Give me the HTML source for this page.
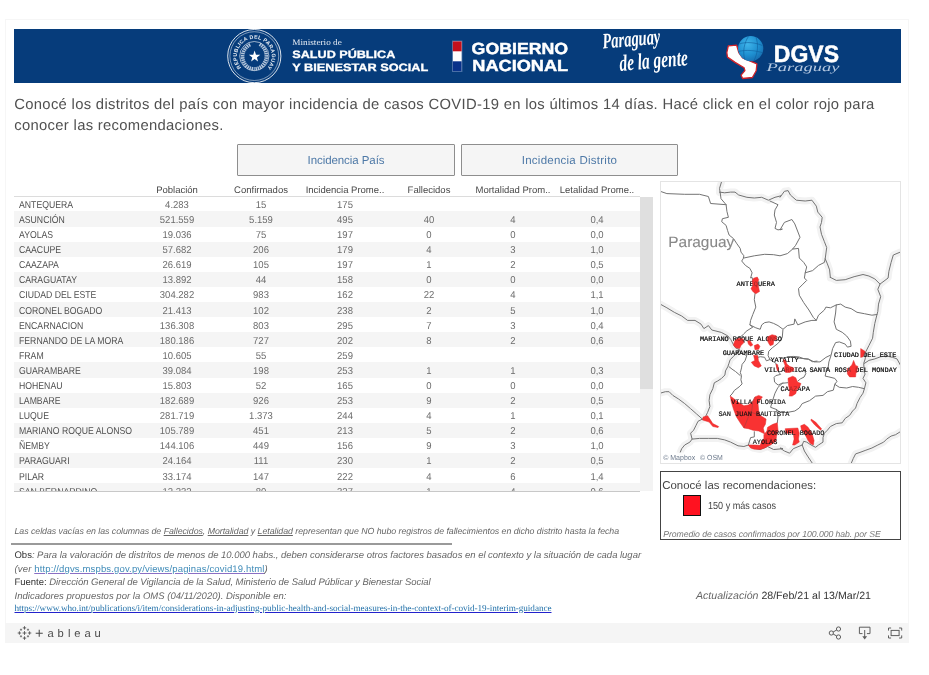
<!DOCTYPE html>
<html lang="es">
<head>
<meta charset="utf-8">
<title>Incidencia COVID-19 por distrito</title>
<style>
html,body{margin:0;padding:0;background:#fff;}
body{text-rendering:geometricPrecision;width:929px;height:675px;overflow:hidden;position:relative;font-family:"Liberation Sans",sans-serif;color:#333;}
#frame{position:absolute;left:0;top:0;width:929px;height:675px;}
#card{position:absolute;left:5px;top:19px;width:904px;height:624px;border:1px solid #f6f6f6;box-sizing:border-box;}
#banner{position:absolute;left:14px;top:29px;width:887px;height:54px;background:#063c7b;overflow:hidden;}
#intro{position:absolute;left:14.3px;top:95px;width:900px;font-size:14.8px;line-height:21px;color:#505050;letter-spacing:0.31px;white-space:nowrap;}
.btn{position:absolute;top:144px;height:32px;box-sizing:border-box;border:1px solid #8e8e8e;border-radius:1px;background:#f5f5f5;color:#4e79a7;font-size:11.5px;text-align:center;line-height:31px;}
#b1{left:237px;width:218px;}
#b2{left:461px;width:217px;}
#thead{position:absolute;left:14px;top:181px;width:626px;height:15px;border-bottom:1px solid #dcdcdc;font-size:9.5px;color:#484848;}
.th{position:absolute;top:2.1px;width:84px;text-align:center;line-height:15px;white-space:nowrap;}
.c0{left:121px}.c1{left:205px}.c2{left:289px}.c3{left:373px}.c4{left:457px}.c5{left:541px}
#tbody{position:absolute;left:14px;top:196.4px;width:626px;height:294.6px;overflow:hidden;font-size:10px;}
.tr{position:relative;height:15.1px;width:626px;}
.tr.alt{background:#f5f5f5;}
.td{position:absolute;top:1.5px;width:84px;text-align:center;line-height:15.1px;color:#6c6c6c;white-space:nowrap;transform:scaleX(0.950);}
.td.lab{left:5px;width:160px;text-align:left;color:#505050;transform:none;}
#sbar{position:absolute;left:640px;top:197px;width:13px;height:294px;background:#f3f3f3;}
#thumb{position:absolute;left:0;top:0;width:13px;height:192px;background:#dfdfdf;}
#tbot{position:absolute;left:14px;top:491px;width:626px;height:1px;background:#c8c8c8;}
#map{position:absolute;left:660px;top:181px;width:241px;height:283px;box-sizing:border-box;border:1px solid #e4e4e4;overflow:hidden;background:#fff;}
#legend{position:absolute;left:660px;top:471px;width:241px;height:69px;box-sizing:border-box;border:1px solid #444;}
.ft{position:absolute;white-space:nowrap;color:#666;font-size:9.5px;line-height:13px;}
.ft .lnk{color:#3f8bb8;text-decoration:underline;text-decoration-color:#8a6fc4;}
.sx{display:inline-block;transform-origin:0 50%;}
#note1{left:14.5px;top:525.2px;font-size:8.8px;color:#666;}
#rule{position:absolute;left:11px;top:543px;width:441px;height:2px;background:#9a9a9a;}
#obs{left:14.5px;top:549.2px;}
#ver{left:14.5px;top:563px;}
#fuente{left:14.5px;top:576.2px;}
#indic{left:14.5px;top:590px;}
#who{left:14.5px;top:601.5px;font-family:"Liberation Serif",serif;font-size:9.2px;}
#who .lnk{color:#1f6fa8;text-decoration-color:#2222cc;}
#actual{left:696px;top:590px;font-size:10.6px;}
#actual b{font-weight:400;color:#333;}
#obs .sx, #fuente .sx{color:#333;}
#obs i, #fuente i{color:#666;}
#toolbar{position:absolute;left:5px;top:623px;width:904px;height:20px;background:#f5f5f5;}
#legend .lt{position:absolute;left:1.2px;top:5.6px;font-size:11.4px;line-height:16px;color:#444;white-space:nowrap;}
#legend .sq{position:absolute;left:22px;top:23px;width:18.4px;height:21px;box-sizing:border-box;background:#ff1220;border:1px solid #111;}
#legend .ll{position:absolute;left:46.6px;top:29.4px;font-size:10.3px;line-height:12px;color:#444;white-space:nowrap;}
#legend .lp{position:absolute;left:2.2px;top:55.6px;font-size:8.7px;line-height:12px;color:#777;white-space:nowrap;font-style:italic;}
#note1 .sx{letter-spacing:-0.04px}
#obs .sx{letter-spacing:-0.02px}
#ver .sx{letter-spacing:0.15px}
#fuente .sx{letter-spacing:-0.03px}
#indic .sx{letter-spacing:0.02px}
#who .sx{letter-spacing:-0.058px}
#legend .lt .sx{letter-spacing:0.03px}
#legend .ll .sx{transform:scaleX(0.88)}
#legend .lp .sx{letter-spacing:-0.07px}
#b1 span{letter-spacing:-0.07px}
#b2 span{letter-spacing:0.25px}
.lx{transform:scaleX(0.869);}
.btn span{position:relative;top:1px;}

</style>
</head>
<body>
<div id="frame">
<div id="card"></div>
<div id="banner">
<svg width="887" height="54" viewBox="14 29 887 54" style="position:absolute;left:0;top:0;display:block">
  <defs>
    <radialGradient id="globe" cx="0.38" cy="0.32" r="0.8">
      <stop offset="0" stop-color="#3fb4ea"/>
      <stop offset="0.55" stop-color="#1e8fd0"/>
      <stop offset="1" stop-color="#1565a8"/>
    </radialGradient>
    <path id="sealarc" d="M 242.0 68.4 A 17.4 17.4 0 1 1 266.6 68.4"/>
  </defs>
  <!-- national seal -->
  <g fill="none" stroke="#ffffff">
    <circle cx="254.3" cy="56.1" r="26.6" stroke-width="0.9" stroke-opacity="0.95"/>
    <circle cx="254.3" cy="56.1" r="24.4" stroke-width="0.6" stroke-opacity="0.8"/>
    <circle cx="254.3" cy="56.1" r="14.6" stroke-width="0.7" stroke-opacity="0.85"/>
  </g>
  <text font-family="'Liberation Sans',sans-serif" font-weight="700" font-size="5.3" fill="#ffffff" fill-opacity="0.92"><textPath href="#sealarc" startOffset="1" textLength="80" lengthAdjust="spacing">REPUBLICA DEL PARAGUAY</textPath></text>
  <g fill="none" stroke="#dfe7f2" stroke-opacity="0.8" stroke-dasharray="1.5 0.7">
    <path d="M 250.2 44.6 C 241.6 49.0 240.2 59.6 246.6 66.0 C 248.8 68.0 251.6 68.8 254.3 68.9" stroke-width="3.6"/>
    <path d="M 259.6 44.2 C 267.4 48.8 268.6 59.6 262.0 66.0 C 259.8 68.0 257.0 68.8 254.3 68.9" stroke-width="3.6"/>
  </g>
  <polygon fill="#ffffff" points="254.6,50.6 256.0,54.7 260.3,54.8 256.9,57.4 258.1,61.5 254.6,59.1 251.1,61.5 252.3,57.4 248.9,54.8 253.2,54.7"/>
  <!-- ministry -->
  <text x="292.3" y="45.2" font-family="'Liberation Serif',serif" font-size="8.6" fill="#e8eef6" textLength="49.5" lengthAdjust="spacingAndGlyphs">Ministerio de</text>
  <text x="292.3" y="58.4" font-family="'Liberation Sans',sans-serif" font-weight="700" font-size="10.7" fill="#ffffff" stroke="#ffffff" stroke-width="0.3" textLength="103" lengthAdjust="spacingAndGlyphs">SALUD PÚBLICA</text>
  <text x="292.3" y="71.3" font-family="'Liberation Sans',sans-serif" font-weight="700" font-size="10.7" fill="#ffffff" stroke="#ffffff" stroke-width="0.3" textLength="136" lengthAdjust="spacingAndGlyphs">Y BIENESTAR SOCIAL</text>
  <!-- flag -->
  <rect x="452.4" y="41" width="9.6" height="30.6" fill="#ffffff" stroke="#4a72a6" stroke-width="0.8"/>
  <rect x="452.8" y="41.4" width="8.8" height="9.9" fill="#c4101c"/>
  <rect x="452.8" y="61.3" width="8.8" height="9.9" fill="#08328a"/>
  <!-- gobierno -->
  <text x="471.6" y="54.1" font-family="'Liberation Sans',sans-serif" font-weight="700" font-size="16" fill="#ffffff" stroke="#ffffff" stroke-width="0.45" textLength="96.5" lengthAdjust="spacingAndGlyphs">GOBIERNO</text>
  <text x="472.3" y="70.8" font-family="'Liberation Sans',sans-serif" font-weight="700" font-size="16" fill="#ffffff" stroke="#ffffff" stroke-width="0.45" textLength="95.8" lengthAdjust="spacingAndGlyphs">NACIONAL</text>
  <!-- paraguay de la gente -->
  <g font-family="'Liberation Serif',serif" font-style="italic" font-weight="700" fill="#ffffff">
    <text x="603" y="48.6" font-size="22" textLength="58" lengthAdjust="spacingAndGlyphs" transform="rotate(-5 603 48.6)">Paraguay</text>
    <text x="620" y="71" font-size="23" textLength="68.5" lengthAdjust="spacingAndGlyphs" transform="rotate(-5 620 71)">de la gente</text>
  </g>
  <!-- DGVS -->
  <polygon points="728.3,45.8 736.6,45.1 738.8,52.6 742.6,57.9 756.9,63.9 756.2,70.7 752.4,77.5 742.6,78.5 741.1,75.2 744.9,70.7 744.1,67.7 735.1,62.4 727.5,57.1 726.8,52.6" fill="#ffffff" stroke="#d2232a" stroke-width="1.3" stroke-linejoin="round"/>
  <circle cx="750.7" cy="48.6" r="12.6" fill="url(#globe)"/>
  <g fill="none" stroke="#0f5a98" stroke-width="0.7" stroke-opacity="0.8">
    <path d="M 748.5 36.4 C 744 43 742.5 52 744.8 59.6"/>
    <path d="M 756 37.3 C 758.5 44 758 53 754 60.6"/>
    <path d="M 739.2 44 C 746 41.5 756 42.5 762.4 45.6"/>
    <path d="M 738.4 51.5 C 746 49.5 756.5 50.5 763.2 53"/>
  </g>
  <text x="773.8" y="62.4" font-family="'Liberation Sans',sans-serif" font-weight="700" font-size="23.8" fill="#ffffff" stroke="#ffffff" stroke-width="0.5" textLength="65.2" lengthAdjust="spacingAndGlyphs">DGVS</text>
  <text x="766.5" y="70.6" font-family="'Liberation Serif',serif" font-style="italic" font-size="11.5" fill="#c9d8ec" fill-opacity="0.9" textLength="73" lengthAdjust="spacingAndGlyphs">Paraguay</text>
</svg>
</div>
<div id="intro">Conocé los distritos del país con mayor incidencia de casos COVID-19 en los últimos 14 días. Hacé click en el color rojo para<br>conocer las recomendaciones.</div>
<div class="btn" id="b1"><span>Incidencia País</span></div>
<div class="btn" id="b2"><span>Incidencia Distrito</span></div>
<div id="thead"><div class="th c0">Población</div><div class="th c1">Confirmados</div><div class="th c2">Incidencia Prome..</div><div class="th c3">Fallecidos</div><div class="th c4">Mortalidad Prom..</div><div class="th c5">Letalidad Prome..</div></div>
<div id="tbody">
<div class="tr"><div class="td lab"><span class="sx lx">ANTEQUERA</span></div><div class="td c0">4.283</div><div class="td c1">15</div><div class="td c2">175</div><div class="td c3"></div><div class="td c4"></div><div class="td c5"></div></div>
<div class="tr alt"><div class="td lab"><span class="sx lx">ASUNCIÓN</span></div><div class="td c0">521.559</div><div class="td c1">5.159</div><div class="td c2">495</div><div class="td c3">40</div><div class="td c4">4</div><div class="td c5">0,4</div></div>
<div class="tr"><div class="td lab"><span class="sx lx">AYOLAS</span></div><div class="td c0">19.036</div><div class="td c1">75</div><div class="td c2">197</div><div class="td c3">0</div><div class="td c4">0</div><div class="td c5">0,0</div></div>
<div class="tr alt"><div class="td lab"><span class="sx lx">CAACUPE</span></div><div class="td c0">57.682</div><div class="td c1">206</div><div class="td c2">179</div><div class="td c3">4</div><div class="td c4">3</div><div class="td c5">1,0</div></div>
<div class="tr"><div class="td lab"><span class="sx lx">CAAZAPA</span></div><div class="td c0">26.619</div><div class="td c1">105</div><div class="td c2">197</div><div class="td c3">1</div><div class="td c4">2</div><div class="td c5">0,5</div></div>
<div class="tr alt"><div class="td lab"><span class="sx lx">CARAGUATAY</span></div><div class="td c0">13.892</div><div class="td c1">44</div><div class="td c2">158</div><div class="td c3">0</div><div class="td c4">0</div><div class="td c5">0,0</div></div>
<div class="tr"><div class="td lab"><span class="sx lx">CIUDAD DEL ESTE</span></div><div class="td c0">304.282</div><div class="td c1">983</div><div class="td c2">162</div><div class="td c3">22</div><div class="td c4">4</div><div class="td c5">1,1</div></div>
<div class="tr alt"><div class="td lab"><span class="sx lx">CORONEL BOGADO</span></div><div class="td c0">21.413</div><div class="td c1">102</div><div class="td c2">238</div><div class="td c3">2</div><div class="td c4">5</div><div class="td c5">1,0</div></div>
<div class="tr"><div class="td lab"><span class="sx lx">ENCARNACION</span></div><div class="td c0">136.308</div><div class="td c1">803</div><div class="td c2">295</div><div class="td c3">7</div><div class="td c4">3</div><div class="td c5">0,4</div></div>
<div class="tr alt"><div class="td lab"><span class="sx lx">FERNANDO DE LA MORA</span></div><div class="td c0">180.186</div><div class="td c1">727</div><div class="td c2">202</div><div class="td c3">8</div><div class="td c4">2</div><div class="td c5">0,6</div></div>
<div class="tr"><div class="td lab"><span class="sx lx">FRAM</span></div><div class="td c0">10.605</div><div class="td c1">55</div><div class="td c2">259</div><div class="td c3"></div><div class="td c4"></div><div class="td c5"></div></div>
<div class="tr alt"><div class="td lab"><span class="sx lx">GUARAMBARE</span></div><div class="td c0">39.084</div><div class="td c1">198</div><div class="td c2">253</div><div class="td c3">1</div><div class="td c4">1</div><div class="td c5">0,3</div></div>
<div class="tr"><div class="td lab"><span class="sx lx">HOHENAU</span></div><div class="td c0">15.803</div><div class="td c1">52</div><div class="td c2">165</div><div class="td c3">0</div><div class="td c4">0</div><div class="td c5">0,0</div></div>
<div class="tr alt"><div class="td lab"><span class="sx lx">LAMBARE</span></div><div class="td c0">182.689</div><div class="td c1">926</div><div class="td c2">253</div><div class="td c3">9</div><div class="td c4">2</div><div class="td c5">0,5</div></div>
<div class="tr"><div class="td lab"><span class="sx lx">LUQUE</span></div><div class="td c0">281.719</div><div class="td c1">1.373</div><div class="td c2">244</div><div class="td c3">4</div><div class="td c4">1</div><div class="td c5">0,1</div></div>
<div class="tr alt"><div class="td lab"><span class="sx lx">MARIANO ROQUE ALONSO</span></div><div class="td c0">105.789</div><div class="td c1">451</div><div class="td c2">213</div><div class="td c3">5</div><div class="td c4">2</div><div class="td c5">0,6</div></div>
<div class="tr"><div class="td lab"><span class="sx lx">ÑEMBY</span></div><div class="td c0">144.106</div><div class="td c1">449</div><div class="td c2">156</div><div class="td c3">9</div><div class="td c4">3</div><div class="td c5">1,0</div></div>
<div class="tr alt"><div class="td lab"><span class="sx lx">PARAGUARI</span></div><div class="td c0">24.164</div><div class="td c1">111</div><div class="td c2">230</div><div class="td c3">1</div><div class="td c4">2</div><div class="td c5">0,5</div></div>
<div class="tr"><div class="td lab"><span class="sx lx">PILAR</span></div><div class="td c0">33.174</div><div class="td c1">147</div><div class="td c2">222</div><div class="td c3">4</div><div class="td c4">6</div><div class="td c5">1,4</div></div>
<div class="tr alt"><div class="td lab"><span class="sx lx">SAN BERNARDINO</span></div><div class="td c0">12.232</div><div class="td c1">80</div><div class="td c2">327</div><div class="td c3">1</div><div class="td c4">4</div><div class="td c5">0,6</div></div>
</div>
<div id="sbar"><div id="thumb"></div></div>
<div id="tbot"></div>
<div id="map">
<svg width="241" height="283" viewBox="660 181 241 283" style="position:absolute;left:-1px;top:-1px;display:block">
<g fill="none" stroke="#f2f2f2" stroke-width="7" stroke-linejoin="round" stroke-linecap="round">
<path d="M721.7 181.3 L719.5 188.4 L720.2 192.8"/>
<path d="M719.5 192.1 L724.7 192.8 L730.6 192.1 L735.0 192.1 L738.7 195.0 L746.9 197.3 L754.3 198.0 L761.7 197.3 L768.4 200.2 L775.0 197.3 L781.0 195.8 L780.0 197.3 L784.4 191.3 L788.1 190.6 L790.4 195.0 L796.3 200.2 L805.2 201.0 L811.9 200.2 L816.3 206.1 L817.8 212.1 L822.2 217.3 L821.5 222.4 L820.0 226.9 L821.5 234.3 L824.4 241.7 L826.7 247.6 L825.2 258.7 L827.4 263.9 L829.6 269.9 L830.4 278.0 L830.4 277.4 L836.3 280.4 L845.2 279.7 L854.1 276.7 L863.0 274.5 L868.9 276.0 L874.8 278.9 L880.0 284.1 L877.8 289.3 L880.7 296.7 L878.5 304.1 L877.8 311.5 L877.0 314.5 L874.8 323.4 L873.3 332.3 L872.6 338.2 L868.9 345.6 L865.9 351.5 L865.2 358.9 L863.7 363.4 L864.4 373.0 L865.2 373.9 L863.0 378.4 L865.9 382.8 L864.4 388.7 L863.0 393.2 L860.0 397.6 L857.0 403.6 L855.6 408.0 L852.6 411.0 L849.6 415.4 L845.2 418.4 L842.2 422.8 L836.3 423.6 L830.4 426.5 L827.4 430.2 L824.4 433.2 L823.0 437.6 L823.0 442.1 L818.5 445.0 L815.6 447.3 L811.1 445.0 L806.7 442.1 L803.7 441.3 L802.2 445.0 L793.3 448.7 L789.6 453.2 L784.4 451.0 L780.0 448.0 L783.0 448.7 L773.6 449.5 L767.6 446.5 L760.2 449.5 L752.8 448.0 L748.4 445.0 L743.9 446.5 L738.0 445.8 L730.6 442.1 L724.7 439.9 L717.3 438.4 L708.4 438.4 L699.5 438.4 L692.1 439.1 L690.6 433.2 L693.6 430.2 L695.8 425.8 L698.0 421.3 L702.4 419.1 L705.4 416.9 L707.6 412.4 L709.9 406.5 L709.1 400.6 L709.9 394.7 L712.8 388.7 L714.3 382.8 L717.8 380.9 L721.3 378.6 L724.9 375.0 L725.5 370.9 L727.8 366.7 L729.0 363.2 L730.2 359.6 L733.8 356.1 L736.7 353.1 L739.1 349.5 L735.5 347.8 L733.2 344.2 L730.8 339.5 L727.8 335.9 L721.3 332.4 L711.8 330.0 L708.4 325.6 L703.9 328.6 L701.0 324.1 L695.0 320.4 L687.6 320.4 L681.7 316.0 L674.3 312.3 L666.9 307.8 L660.2 304.1"/>
<path d="M880.0 284.1 L888.1 278.0 L888.9 271.3 L891.1 262.4 L893.3 255.0 L900.3 252.1"/>
<path d="M864.4 363.4 L868.9 360.4 L874.8 358.9 L880.7 356.7 L886.7 356.0 L892.6 357.4 L897.0 358.9 L900.3 364.9"/>
<path d="M900.3 431.7 L895.6 434.7 L891.1 436.1 L886.7 439.1 L883.7 442.1 L877.8 445.0 L871.9 448.0 L865.9 450.2 L860.0 452.4 L855.6 453.9 L853.3 458.4 L851.1 463.6"/>
<path d="M692.1 439.1 L689.9 442.1 L684.7 445.0 L681.7 448.7 L680.2 452.4"/>
<path d="M660.2 393.2 L665.4 391.7 L669.1 391.7 L672.8 395.4 L678.7 399.1 L684.7 403.6 L690.6 408.7 L696.5 413.9 L702.4 419.1"/>
<path d="M802.2 445.0 L804.4 451.0 L808.1 456.9 L812.6 463.6"/>
</g>
<g fill="none" stroke="#737373" stroke-width="1" stroke-linejoin="round" stroke-linecap="round">
<path d="M721.7 181.3 L719.5 188.4 L720.2 192.8"/>
<path d="M719.5 192.1 L724.7 192.8 L730.6 192.1 L735.0 192.1 L738.7 195.0 L746.9 197.3 L754.3 198.0 L761.7 197.3 L768.4 200.2 L775.0 197.3 L781.0 195.8 L780.0 197.3 L784.4 191.3 L788.1 190.6 L790.4 195.0 L796.3 200.2 L805.2 201.0 L811.9 200.2 L816.3 206.1 L817.8 212.1 L822.2 217.3 L821.5 222.4 L820.0 226.9 L821.5 234.3 L824.4 241.7 L826.7 247.6 L825.2 258.7 L827.4 263.9 L829.6 269.9 L830.4 278.0 L830.4 277.4 L836.3 280.4 L845.2 279.7 L854.1 276.7 L863.0 274.5 L868.9 276.0 L874.8 278.9 L880.0 284.1 L877.8 289.3 L880.7 296.7 L878.5 304.1 L877.8 311.5 L877.0 314.5 L874.8 323.4 L873.3 332.3 L872.6 338.2 L868.9 345.6 L865.9 351.5 L865.2 358.9 L863.7 363.4 L864.4 373.0 L865.2 373.9 L863.0 378.4 L865.9 382.8 L864.4 388.7 L863.0 393.2 L860.0 397.6 L857.0 403.6 L855.6 408.0 L852.6 411.0 L849.6 415.4 L845.2 418.4 L842.2 422.8 L836.3 423.6 L830.4 426.5 L827.4 430.2 L824.4 433.2 L823.0 437.6 L823.0 442.1 L818.5 445.0 L815.6 447.3 L811.1 445.0 L806.7 442.1 L803.7 441.3 L802.2 445.0 L793.3 448.7 L789.6 453.2 L784.4 451.0 L780.0 448.0 L783.0 448.7 L773.6 449.5 L767.6 446.5 L760.2 449.5 L752.8 448.0 L748.4 445.0 L743.9 446.5 L738.0 445.8 L730.6 442.1 L724.7 439.9 L717.3 438.4 L708.4 438.4 L699.5 438.4 L692.1 439.1 L690.6 433.2 L693.6 430.2 L695.8 425.8 L698.0 421.3 L702.4 419.1 L705.4 416.9 L707.6 412.4 L709.9 406.5 L709.1 400.6 L709.9 394.7 L712.8 388.7 L714.3 382.8 L717.8 380.9 L721.3 378.6 L724.9 375.0 L725.5 370.9 L727.8 366.7 L729.0 363.2 L730.2 359.6 L733.8 356.1 L736.7 353.1 L739.1 349.5 L735.5 347.8 L733.2 344.2 L730.8 339.5 L727.8 335.9 L721.3 332.4 L711.8 330.0 L708.4 325.6 L703.9 328.6 L701.0 324.1 L695.0 320.4 L687.6 320.4 L681.7 316.0 L674.3 312.3 L666.9 307.8 L660.2 304.1"/>
<path d="M880.0 284.1 L888.1 278.0 L888.9 271.3 L891.1 262.4 L893.3 255.0 L900.3 252.1"/>
<path d="M864.4 363.4 L868.9 360.4 L874.8 358.9 L880.7 356.7 L886.7 356.0 L892.6 357.4 L897.0 358.9 L900.3 364.9"/>
<path d="M900.3 431.7 L895.6 434.7 L891.1 436.1 L886.7 439.1 L883.7 442.1 L877.8 445.0 L871.9 448.0 L865.9 450.2 L860.0 452.4 L855.6 453.9 L853.3 458.4 L851.1 463.6"/>
<path d="M692.1 439.1 L689.9 442.1 L684.7 445.0 L681.7 448.7 L680.2 452.4"/>
<path d="M660.2 393.2 L665.4 391.7 L669.1 391.7 L672.8 395.4 L678.7 399.1 L684.7 403.6 L690.6 408.7 L696.5 413.9 L702.4 419.1"/>
<path d="M802.2 445.0 L804.4 451.0 L808.1 456.9 L812.6 463.6"/>
<path d="M660.2 191.3 L666.9 193.6 L684.7 194.3 L699.5 194.3 L708.4 196.5 L710.6 203.5 L726.1 204.7"/>
<path d="M720.2 192.8 L721.0 198.7 L726.1 204.7 L726.9 211.3 L728.4 217.3 L722.4 218.7 L721.7 221.7 L726.1 225.4 L727.6 230.6 L729.1 235.0 L733.6 238.7 L736.5 243.2 L740.2 248.4 L741.0 252.1 L743.9 255.8 L743.2 258.7 L741.7 261.0 L745.4 265.4 L749.9 268.4 L752.1 272.8 L750.6 278.0 L752.1 277.4 L754.3 286.3 L755.0 293.7 L754.3 299.7 L755.8 307.1 L752.8 314.5 L750.6 320.4 L749.9 324.9 L752.8 327.1 L746.9 330.8 L743.9 333.7 L741.7 336.0 L739.0 337.3 L735.5 340.0"/>
<path d="M769.9 201.0 L778.0 204.7 L775.0 209.9 L774.3 215.0 L776.5 222.4 L775.0 228.4 L778.0 229.9 L782.4 229.1 L780.0 229.9 L784.4 222.4 L791.9 219.5 L794.8 223.9 L800.0 237.3 L795.6 245.4 L792.6 249.1 L787.4 253.6 L780.0 255.8 L773.6 254.7 L764.7 254.3 L754.3 255.8 L743.9 258.0"/>
<path d="M792.6 249.1 L798.5 248.4 L799.3 258.0 L803.7 262.4 L806.7 266.9 L805.2 272.8 L804.4 278.0 L806.7 280.4 L802.2 284.9 L798.5 288.6 L799.3 295.2 L803.7 302.6 L808.9 310.0 L813.3 317.4 L816.3 320.4"/>
<path d="M805.2 272.8 L812.6 270.6 L818.5 265.4 L824.4 262.4 L825.2 258.7"/>
<path d="M749.9 324.9 L755.8 327.8 L760.2 329.3 L761.7 324.9 L764.7 322.6 L769.1 321.9 L773.6 323.4 L778.0 325.6 L783.0 329.3 L787.4 325.6 L794.1 324.1 L794.8 318.9 L797.8 324.9 L805.2 321.9 L811.9 320.4 L816.3 320.4 L818.5 315.2 L824.4 310.0 L825.9 307.1 L830.4 307.8 L836.3 304.9 L840.7 304.1 L845.2 307.1 L851.1 308.6 L857.0 312.3 L864.4 313.7 L871.9 315.2 L877.0 314.5"/>
<path d="M836.3 304.9 L835.6 313.0 L834.1 321.9 L836.3 329.3 L842.2 332.3 L846.7 336.0 L850.4 341.1 L851.1 346.3 L847.4 347.1 L845.2 344.1 L839.3 341.9 L835.6 342.6 L832.6 348.6 L831.1 355.2 L828.9 361.9 L828.1 367.8 L826.7 368.0 L825.2 376.1 L828.9 376.9 L834.8 378.4 L837.0 381.3 L834.8 384.3 L833.3 390.2 L827.4 391.7 L823.0 395.4 L815.6 396.1 L809.6 400.6 L802.2 403.6 L799.3 408.0 L794.8 411.0 L787.4 412.4 L780.0 412.4 L776.5 409.5 L770.6 407.3 L772.1 402.1 L775.0 393.2 L778.0 387.3 L783.0 382.8"/>
<path d="M834.8 384.3 L839.3 387.3 L846.7 388.0 L852.6 386.5 L858.5 387.3 L864.4 388.7"/>
<path d="M780.0 358.9 L788.9 356.7 L799.3 358.2 L808.1 358.9 L814.1 361.9 L820.0 361.9 L825.9 357.4 L830.4 355.2"/>
<path d="M739.1 349.5 L740.9 353.1 L746.8 355.5 L745.0 360.8 L742.1 364.4 L741.5 367.9 L740.3 372.7 L741.5 375.6 L740.9 379.8 L742.1 383.9 L739.1 386.9 L734.4 390.4 L732.0 394.0 L730.2 395.8"/>
<path d="M729.0 366.7 L732.0 369.1 L735.5 371.5 L740.3 375.6"/>
<path d="M782.9 330.0 L782.3 337.1 L780.6 340.7 L777.0 344.2 L772.3 347.8 L768.7 351.3 L768.1 355.5 L769.9 359.6 L766.4 360.8 L764.6 357.3 L760.4 356.7 L758.1 357.3"/>
<path d="M769.9 359.6 L775.8 363.2 L777.0 367.9 L778.2 371.5 L780.6 374.4 L775.8 375.6 L774.1 377.4 L774.6 382.1 L778.2 385.1 L781.8 383.3 L787.7 382.7"/>
<path d="M787.4 357.0 L793.3 356.4 L799.2 357.0 L804.0 358.8 L808.7 359.4 L812.3 361.7 L817.0 361.1"/>
<path d="M804.6 370.6 L805.8 373.6 L804.0 377.1 L800.4 378.9 L798.1 380.9"/>
<path d="M776.5 409.5 L778.0 416.9 L777.3 422.8"/>
<path d="M754.3 431.7 L754.3 436.9 L750.6 437.6 L748.4 445.0"/>
</g>
<g fill="#f93232" stroke="#e02a2a" stroke-width="0.5" stroke-linejoin="round">
<path d="M730.3 396.1 L733.6 398.4 L738.0 402.1 L743.9 405.8 L748.4 405.0 L752.8 401.3 L755.0 396.9 L758.7 395.4 L762.4 396.9 L760.2 399.9 L758.0 403.6 L758.7 411.0 L760.2 415.4 L766.1 419.1 L765.4 424.3 L763.2 428.0 L764.7 433.9 L758.7 431.0 L752.8 430.2 L748.4 428.7 L743.9 428.0 L740.2 422.8 L736.5 416.9 L733.6 409.5 L731.3 402.1 Z"/>
<path d="M767.6 427.3 L772.8 424.3 L777.3 422.8 L778.0 430.2 L776.5 436.1 L772.1 439.1 L766.1 439.1 L763.9 438.4 L763.9 434.7 L766.9 431.0 Z"/>
<path d="M748.4 445.0 L754.3 445.0 L760.2 445.3 L761.7 441.3 L763.9 438.4 L772.1 439.1 L776.5 436.4 L775.8 441.3 L770.6 445.0 L767.6 446.2 L764.7 448.0 L760.2 449.5 L754.3 449.2 L750.6 448.0 Z"/>
</g>
<g fill="none" stroke="#a04040" stroke-width="0.6">
<path d="M755.0 396.9 L752.8 401.3 L751.6 412.4 L748.4 416.9 L743.9 428.0"/>
<path d="M751.6 412.4 L760.2 415.4"/>
</g>
<text x="668.3" y="247.3" font-family="'Liberation Sans',sans-serif" font-size="15" fill="#888888" stroke="#888888" stroke-width="0.1" textLength="66" lengthAdjust="spacingAndGlyphs">Paraguay</text>
<g font-family="'Liberation Mono',monospace" font-size="6.9" fill="#111111" stroke="#111111" stroke-width="0.15">
<text x="736.5" y="286.0" textLength="38.5" lengthAdjust="spacing">ANTEQUERA</text>
<text x="700.0" y="341.0" textLength="82.0" lengthAdjust="spacing">MARIANO ROQUE ALONSO</text>
<text x="722.7" y="354.7" textLength="41.5" lengthAdjust="spacing">GUARAMBARE</text>
<text x="770.6" y="362.3" textLength="28.0" lengthAdjust="spacing">YATAITY</text>
<text x="764.6" y="371.9" textLength="41.8" lengthAdjust="spacing">VILLARRICA</text>
<text x="834.1" y="356.6" textLength="62.2" lengthAdjust="spacing">CIUDAD DEL ESTE</text>
<text x="809.4" y="371.9" textLength="87.6" lengthAdjust="spacing">SANTA ROSA DEL MONDAY</text>
<text x="780.6" y="390.9" textLength="29.2" lengthAdjust="spacing">CAAZAPA</text>
</g>
<g fill="#f93232" stroke="#e02a2a" stroke-width="0.5" stroke-linejoin="round">
<path d="M753.6 278.2 L757.3 277.1 L758.7 279.7 L757.6 282.6 L758.7 287.8 L759.5 291.5 L755.8 293.7 L752.8 291.5 L751.0 288.6 L752.8 285.6 L752.1 281.1 Z"/>
<path d="M735.0 340.4 L738.7 338.2 L743.2 338.9 L743.9 342.6 L741.0 345.6 L739.5 348.6 L735.8 347.8 L733.3 344.9 Z"/>
<path d="M747.6 341.1 L749.9 340.4 L752.8 344.9 L750.6 346.3 L748.4 344.1 Z"/>
<path d="M754.3 345.6 L758.0 344.1 L759.9 346.3 L758.7 349.3 L755.0 349.7 Z"/>
<path d="M767.8 336.8 L772.0 334.7 L776.1 335.7 L776.7 339.2 L773.8 340.4 L773.2 344.5 L770.2 345.7 L768.4 342.8 L767.3 339.8 Z"/>
<path d="M753.6 355.2 L757.8 355.6 L758.4 360.5 L761.3 365.9 L758.4 367.7 L754.2 365.9 L751.3 362.3 L754.8 360.5 Z"/>
<path d="M783.2 359.4 L785.6 360.5 L786.8 364.1 L789.8 366.5 L793.3 367.7 L793.9 370.6 L789.8 372.4 L785.6 372.4 L784.4 368.8 L785.0 365.3 L783.8 362.3 Z"/>
<path d="M776.1 364.1 L777.7 364.7 L778.5 370.0 L777.3 370.6 Z"/>
<path d="M788.0 378.3 L792.7 376.2 L795.7 377.7 L797.5 381.9 L801.0 383.6 L799.2 387.8 L796.9 389.6 L795.7 393.7 L792.1 396.1 L789.2 396.1 L789.8 391.4 L788.6 385.4 Z"/>
<path d="M860.7 348.6 L865.2 351.5 L863.0 356.7 L860.7 357.4 Z"/>
<path d="M853.6 360.4 L855.6 365.6 L857.8 366.3 L856.7 373.0 L856.3 368.0 L855.6 376.9 L849.6 376.9 L847.4 373.9 L847.4 368.0 L848.1 372.3 L850.4 366.3 L851.9 364.9 Z"/>
<path d="M703.2 416.9 L707.6 415.7 L709.9 419.1 L712.8 423.6 L718.7 426.5 L718.0 427.6 L712.8 426.5 L709.1 422.1 L702.4 419.9 Z"/>
<path d="M785.2 428.7 L797.8 428.0 L799.3 433.2 L798.5 439.1 L799.3 442.1 L794.8 445.0 L792.6 445.0 L794.1 439.1 L793.3 433.2 L785.9 433.2 Z"/>
<path d="M800.7 425.8 L804.4 424.3 L808.1 427.3 L811.9 433.2 L814.1 440.6 L813.3 445.0 L810.4 443.6 L808.1 440.6 L804.4 433.2 L801.5 430.2 Z"/>
<path d="M811.1 419.1 L815.6 422.1 L821.5 428.7 L820.7 430.2 L814.8 425.0 L811.1 420.6 Z"/>
</g>
<g font-family="'Liberation Mono',monospace" font-size="6.9" fill="#1a1a1a" fill-opacity="0.4">
<text x="736.5" y="286.0" textLength="38.5" lengthAdjust="spacing">ANTEQUERA</text>
<text x="700.0" y="341.0" textLength="82.0" lengthAdjust="spacing">MARIANO ROQUE ALONSO</text>
<text x="722.7" y="354.7" textLength="41.5" lengthAdjust="spacing">GUARAMBARE</text>
<text x="770.6" y="362.3" textLength="28.0" lengthAdjust="spacing">YATAITY</text>
<text x="764.6" y="371.9" textLength="41.8" lengthAdjust="spacing">VILLARRICA</text>
<text x="834.1" y="356.6" textLength="62.2" lengthAdjust="spacing">CIUDAD DEL ESTE</text>
<text x="809.4" y="371.9" textLength="87.6" lengthAdjust="spacing">SANTA ROSA DEL MONDAY</text>
<text x="780.6" y="390.9" textLength="29.2" lengthAdjust="spacing">CAAZAPA</text>
</g>
<g font-family="'Liberation Mono',monospace" font-size="6.9" fill="#111111" stroke="#111111" stroke-width="0.15">
<text x="731.3" y="403.9" textLength="54.3" lengthAdjust="spacing">VILLA FLORIDA</text>
<text x="718.4" y="415.7" textLength="71.0" lengthAdjust="spacing">SAN JUAN BAUTISTA</text>
<text x="766.9" y="434.7" textLength="57.5" lengthAdjust="spacing">CORONEL BOGADO</text>
<text x="752.8" y="444.3" textLength="24.5" lengthAdjust="spacing">AYOLAS</text>
</g>
<rect x="661" y="452.5" width="63" height="11" fill="#ffffff" fill-opacity="0.75"/>
<text x="663.2" y="460.2" font-family="'Liberation Sans',sans-serif" font-size="7.4" fill="#6d7a8c" textLength="32" lengthAdjust="spacingAndGlyphs">© Mapbox</text>
<text x="700" y="460.2" font-family="'Liberation Sans',sans-serif" font-size="7.4" fill="#6d7a8c" textLength="22.8" lengthAdjust="spacingAndGlyphs">© OSM</text>
</svg>
</div>
<div id="legend"><div class="lt"><span class="sx">Conocé las recomendaciones:</span></div><div class="sq"></div><div class="ll"><span class="sx">150 y más casos</span></div><div class="lp"><span class="sx">Promedio de casos confirmados por 100.000 hab. por SE</span></div></div>
<div id="note1" class="ft"><span class="sx"><i>Las celdas vacías en las columnas de <u>Fallecidos</u>, <u>Mortalidad</u> y <u>Letalidad</u> representan que NO hubo registros de fallecimientos en dicho distrito hasta la fecha</i></span></div>
<div id="rule"></div>
<div id="obs" class="ft"><span class="sx">Obs<i>: Para la valoración de distritos de menos de 10.000 habs., deben considerarse otros factores basados en el contexto y la situación de cada lugar</i></span></div>
<div id="ver" class="ft"><span class="sx"><i>(ver </i><span class="lnk">http://dgvs.mspbs.gov.py/views/paginas/covid19.html</span><i>)</i></span></div>
<div id="fuente" class="ft"><span class="sx">Fuente: <i>Dirección General de Vigilancia de la Salud, Ministerio de Salud Públicar y Bienestar Social</i></span></div>
<div id="indic" class="ft"><span class="sx"><i>Indicadores propuestos por la OMS (04/11/2020). Disponible en:</i></span></div>
<div id="who" class="ft"><span class="sx"><span class="lnk">https://www.who.int/publications/i/item/considerations-in-adjusting-public-health-and-social-measures-in-the-context-of-covid-19-interim-guidance</span></span></div>
<div id="actual" class="ft"><span class="sx"><i>Actualización</i> <b>28/Feb/21 al 13/Mar/21</b></span></div>
<div id="toolbar">
  <svg width="904" height="20" viewBox="5 623 904 20" style="position:absolute;left:0;top:0;display:block">
    <g stroke="#555" stroke-width="0.9" fill="none" stroke-linecap="butt">
      <path d="M24.5 626.2v3.4M22.8 627.9h3.4M24.5 636.4v3.4M22.8 638.1h3.4M19.4 631.3v3.4M17.7 633h3.4M29.6 631.3v3.4M27.9 633h3.4M24.5 631.1v3.8M22.6 633h3.8"/>
      <path d="M21 628.6v2.2M19.9 629.7h2.2M28 628.6v2.2M26.9 629.7h2.2M21 635.2v2.2M19.9 636.3h2.2M28 635.2v2.2M26.9 636.3h2.2" stroke-width="0.7"/>
    </g>
    <text y="637.1" font-family="'Liberation Sans',sans-serif" font-size="11.2" fill="#4a4a4a" x="35.1 47.4 57.6 68.0 74.3 84.5 94.5"><tspan font-size="14.5" dy="0.9">+</tspan><tspan dy="-0.9">a</tspan>bleau</text>
    <g stroke="#5e5e5e" stroke-width="1" fill="none" transform="translate(0.9 0)">
      <circle cx="830.4" cy="633" r="2.1"/><circle cx="837.6" cy="629" r="2.1"/><circle cx="837.6" cy="637" r="2.1"/>
      <path d="M832.2 632l3.6-2M832.2 634l3.6 2"/>
      <path d="M861.6 633.6h-3.1v-6.4h10.6v6.4h-3.1"/>
      <path d="M863.8 630v7.2"/>
      <path d="M887.6 630.6v-2.6h2.6M898.2 628h2.6v2.6M900.8 635.4v2.6h-2.6M890.2 638h-2.6v-2.6"/>
      <rect x="890.2" y="630.4" width="8" height="5.2"/>
    </g>
    <path d="M862.3 636.2h4.8l-2.4 3.2z" fill="#5e5e5e"/>
  </svg>
</div>
</div>
</body>
</html>
